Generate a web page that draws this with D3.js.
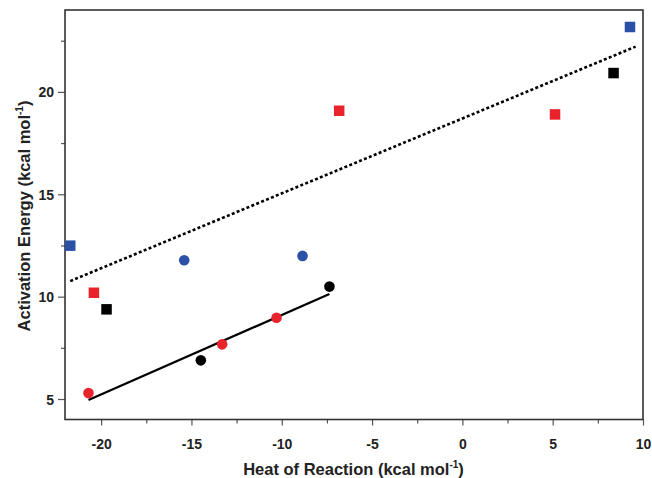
<!DOCTYPE html>
<html>
<head>
<meta charset="utf-8">
<script src="https://cdn.jsdelivr.net/npm/d3@7"></script>
<style>
  html, body { margin: 0; padding: 0; background: #fff; }
  svg { display: block; }
  text { font-family: "Liberation Sans", Arial, sans-serif; font-weight: bold; fill: #222; }
</style>
</head>
<body>
<svg id="chart" width="652" height="478"></svg>
<script>
// ---- data ----
const xTicks = [-20, -15, -10, -5, 0, 5, 10];
const yTicks = [5, 10, 15, 20];
const xMinorTicks = [-17.5, -12.5, -7.5, -2.5, 2.5, 7.5];
const yMinorTicks = [7.5, 12.5, 17.5, 22.5];

const blueSquaresX = [-21.71, 9.28];
const blueSquaresY = [12.49, 23.17];
const redSquaresX = [-20.40, -6.82, 5.13];
const redSquaresY = [10.19, 19.08, 18.90];
const blackSquaresX = [-19.70, 8.37];
const blackSquaresY = [9.38, 20.92];

const blueCirclesX = [-15.40, -8.85];
const blueCirclesY = [11.78, 11.99];
const redCirclesX = [-20.70, -13.30, -10.29];
const redCirclesY = [5.29, 7.67, 8.97];
const blackCirclesX = [-14.48, -7.36];
const blackCirclesY = [6.89, 10.49];

const solidFitX = [-20.70, -7.36];
const solidFitY = [4.95, 10.13];
const dottedFitX = [-21.71, 9.59];
const dottedFitY = [10.76, 22.21];

const xTitle = "Heat of Reaction (kcal mol";
const yTitle = "Activation Energy (kcal mol";

// ---- drawing ----
(function () {
const svg = d3.select("#chart");
const mLeft = 65, mRight = 643, mTop = 10, mBottom = 419.5;
const x = d3.scaleLinear().domain([-22, 10]).range([mLeft, mRight]);
const y = d3.scaleLinear().domain([4, 24]).range([mBottom, mTop]);

const blue = "#2a51a6", red = "#e8232b", black = "#000";
const fmt = d => String(d);

// axes
const xAxis = svg.append("g").attr("transform", `translate(0,${mBottom})`)
  .call(d3.axisBottom(x).tickValues(xTicks).tickSize(6).tickFormat(fmt));
const xAxisMinor = svg.append("g").attr("transform", `translate(0,${mBottom})`)
  .call(d3.axisBottom(x).tickValues(xMinorTicks).tickSize(4).tickFormat(""));
const yAxis = svg.append("g").attr("transform", `translate(${mLeft},0)`)
  .call(d3.axisLeft(y).tickValues(yTicks).tickSize(7).tickPadding(4).tickFormat(fmt));
const yAxisMinor = svg.append("g").attr("transform", `translate(${mLeft},0)`)
  .call(d3.axisLeft(y).tickValues(yMinorTicks).tickSize(4).tickFormat(""));

[xAxis, xAxisMinor, yAxis, yAxisMinor].forEach(g => {
  g.select(".domain").remove();
  g.selectAll(".tick line").attr("stroke", "#555").attr("stroke-width", 1.2);
  g.selectAll(".tick text").style("font-size", "14px").style("font-family", "'Liberation Sans', Arial, sans-serif")
    .style("font-weight", "bold").attr("fill", "#222");
});
xAxis.selectAll(".tick text").attr("y", 29.5).attr("dy", 0);
yAxis.selectAll(".tick text").attr("dy", "0.36em");

// frame
svg.append("rect").attr("x", mLeft).attr("y", mTop)
  .attr("width", mRight - mLeft).attr("height", mBottom - mTop)
  .attr("fill", "none").attr("stroke", "#333").attr("stroke-width", 1.6);

// fit lines
const line = d3.line().x(d => x(d[0])).y(d => y(d[1]));
svg.append("path").datum(solidFitX.map((v, i) => [v, solidFitY[i]]))
  .attr("d", line).attr("stroke", black).attr("stroke-width", 2.2).attr("fill", "none");
svg.append("path").datum(dottedFitX.map((v, i) => [v, dottedFitY[i]]))
  .attr("d", line).attr("stroke", black).attr("stroke-width", 2.6)
  .attr("stroke-dasharray", "3,2.3").attr("fill", "none");

// markers
const sq = 10.5;
function squares(xs, ys, color) {
  svg.append("g").selectAll("rect").data(xs.map((v, i) => [v, ys[i]])).join("rect")
    .attr("x", d => x(d[0]) - sq / 2).attr("y", d => y(d[1]) - sq / 2)
    .attr("width", sq).attr("height", sq).attr("fill", color);
}
function circles(xs, ys, color) {
  svg.append("g").selectAll("circle").data(xs.map((v, i) => [v, ys[i]])).join("circle")
    .attr("cx", d => x(d[0])).attr("cy", d => y(d[1])).attr("r", 5.3).attr("fill", color);
}
squares(blueSquaresX, blueSquaresY, blue);
squares(redSquaresX, redSquaresY, red);
squares(blackSquaresX, blackSquaresY, black);
circles(blueCirclesX, blueCirclesY, blue);
circles(redCirclesX, redCirclesY, red);
circles(blackCirclesX, blackCirclesY, black);

// titles
const xt = svg.append("text").attr("x", 353.5).attr("y", 475)
  .attr("text-anchor", "middle").style("font-size", "16.5px");
xt.append("tspan").text(xTitle);
xt.append("tspan").attr("dy", -7).style("font-size", "10px").text("-1");
xt.append("tspan").attr("dy", 7).text(")");

const yt = svg.append("text").attr("transform", `translate(30,216) rotate(-90)`)
  .attr("text-anchor", "middle").style("font-size", "16.5px");
yt.append("tspan").text(yTitle);
yt.append("tspan").attr("dy", -7).style("font-size", "10px").text("-1");
yt.append("tspan").attr("dy", 7).text(")");
})();
</script>
</body>
</html>
